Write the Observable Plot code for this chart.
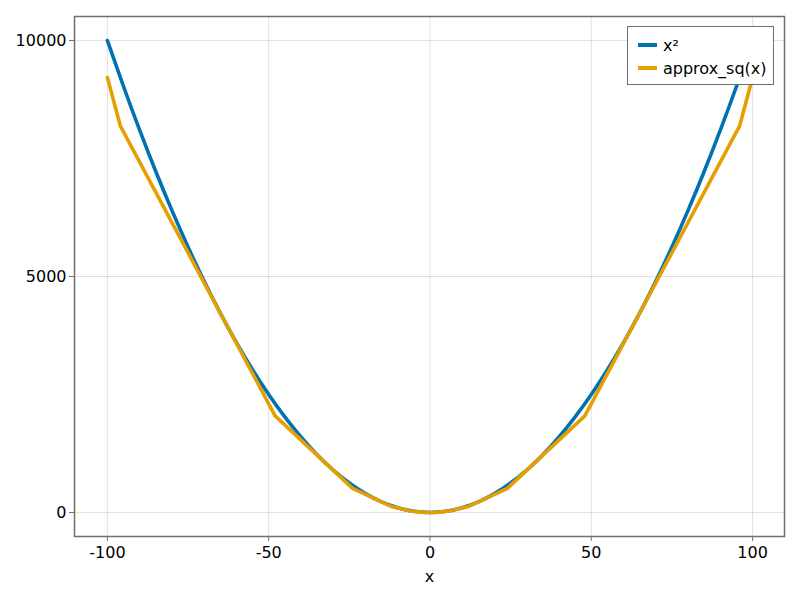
<!DOCTYPE html>
<html>
<head>
<meta charset="utf-8">
<script src="https://cdn.jsdelivr.net/npm/d3@7"></script>
<script src="https://cdn.jsdelivr.net/npm/@observablehq/plot@0.6"></script>
<style>
  html, body { margin: 0; padding: 0; background: #fff; }
  #wrap { position: relative; width: 800px; height: 600px; font-family: "DejaVu Sans", sans-serif; }
  #legend { position: absolute; left: 627px; top: 26px; width: 145px; height: 57px; border: 1px solid #6f6f6f; background: #fff; font-size: 16px; }
  .entry { position: absolute; left: 10px; height: 20px; display: flex; align-items: center; }
  .sw { width: 19px; height: 4px; margin-right: 6px; }
</style>
</head>
<body>
<div id="wrap"><div id="legend"></div></div>
<script>
// Series 1: x²
const sqX = [-100,-95,-90,-85,-80,-75,-70,-65,-60,-55,-50,-45,-40,-35,-30,-25,-20,-15,-10,-5,0,5,10,15,20,25,30,35,40,45,50,55,60,65,70,75,80,85,90,95,100];
const sqY = [10000,9025,8100,7225,6400,5625,4900,4225,3600,3025,2500,2025,1600,1225,900,625,400,225,100,25,0,25,100,225,400,625,900,1225,1600,2025,2500,3025,3600,4225,4900,5625,6400,7225,8100,9025,10000];
// Series 2: approx_sq(x) (piecewise linear)
const apX = [-100,-96,-48,-24,-12,-6,-3,-1.5,0,1.5,3,6,12,24,48,96,100];
const apY = [9216,8192,2048,512,128,32,8,2,0,2,8,32,128,512,2048,8192,9216];
const seriesNames = ["x²", "approx_sq(x)"];
const seriesColors = ["#0072B2", "#E69F00"];
const xTicks = [-100, -50, 0, 50, 100];
const yTicks = [0, 5000, 10000];

const sqData = sqX.map((x, i) => ({x, y: sqY[i]}));
const apData = apX.map((x, i) => ({x, y: apY[i]}));

const chart = Plot.plot({
  width: 800, height: 600,
  marginLeft: 74, marginRight: 16, marginTop: 16, marginBottom: 64,
  style: {fontFamily: "DejaVu Sans, sans-serif", fontSize: "16px", color: "#000", background: "#fff"},
  x: {domain: [-110.2, 109.9]},
  y: {domain: [-508, 10508]},
  marks: [
    Plot.gridX(xTicks, {stroke: "#000", strokeOpacity: 0.12}),
    Plot.gridY(yTicks, {stroke: "#000", strokeOpacity: 0.12}),
    Plot.line(sqData, {x: "x", y: "y", stroke: seriesColors[0], strokeWidth: 3.6, curve: "natural"}),
    Plot.line(apData, {x: "x", y: "y", stroke: seriesColors[1], strokeWidth: 3.6}),
    Plot.frame({stroke: "#6f6f6f", strokeWidth: 1.5}),
    Plot.axisX(xTicks, {tickSize: 5, tickPadding: 5, stroke: "#6f6f6f", fill: "#000", tickFormat: d => String(d), label: "x", labelAnchor: "center", labelArrow: "none", labelOffset: 45}),
    Plot.axisY(yTicks, {tickSize: 5, tickPadding: 3, stroke: "#6f6f6f", fill: "#000", tickFormat: d => String(d), label: null})
  ]
});
document.getElementById("wrap").prepend(chart);

const legend = document.getElementById("legend");
seriesNames.forEach((name, i) => {
  const e = document.createElement("div");
  e.className = "entry";
  e.style.top = (8 + i * 23) + "px";
  e.innerHTML = `<div class="sw" style="background:${seriesColors[i]}"></div><span>${name}</span>`;
  legend.appendChild(e);
});
</script>
</body>
</html>
